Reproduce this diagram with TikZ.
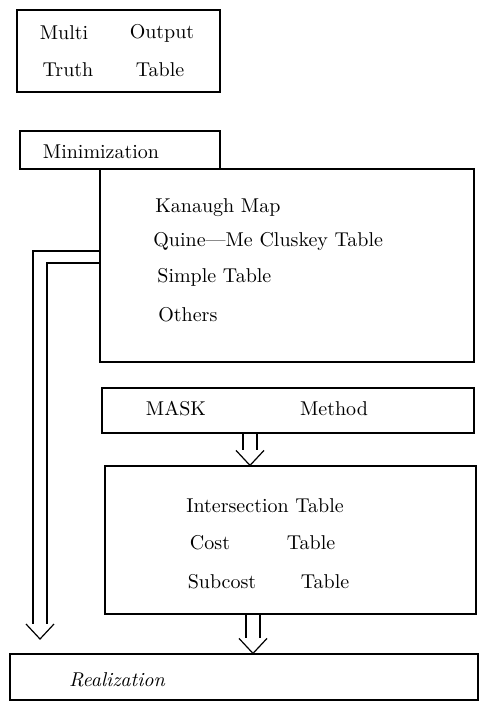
\documentclass[tikz,border=0pt]{standalone}
\usetikzlibrary{calc}
\begin{document}
\begin{tikzpicture}[x=0.5pt,y=-0.5pt,
  boxnode/.style={draw,line width=0.6pt,inner sep=0pt,rectangle},
  lbl/.style={font=\fontsize{10}{12}\selectfont,inner sep=0pt},
  conn/.style={line width=0.6pt}]
\useasboundingbox (0,0) rectangle (482,704);
% boxes
\node[boxnode,minimum width=101.5pt,minimum height=41pt] (top) at (118.5,51) {};
\node[boxnode,minimum width=100pt,minimum height=19pt] (mini) at (120,150) {};
\node[boxnode,minimum width=187pt,minimum height=96.5pt] (big) at (287,265.5) {};
\node[boxnode,minimum width=186pt,minimum height=22.5pt] (mask) at (288,410.5) {};
\node[boxnode,minimum width=185.5pt,minimum height=74pt] (inter) at (290.5,540) {};
\node[boxnode,minimum width=234pt,minimum height=23pt] (real) at (244,677) {};
% texts
\node[lbl] (t1) at (64,33) {Multi};
\node[lbl] (t2) at (162,33) {Output};
\node[lbl] (t3) at (68,70) {Truth};
\node[lbl] (t4) at (160,70) {Table};
\node[lbl] (m1) at (101,152) {Minimization};
\node[lbl,anchor=west] (b1) at (155,208) {Kanaugh Map};
\node[lbl,anchor=west] (b2) at (153,242) {Quine---Me Cluskey Table};
\node[lbl,anchor=west] (b3) at (157,277) {Simple Table};
\node[lbl,anchor=west] (b4) at (158,315) {Others};
\node[lbl] (k1) at (176,409) {MASK};
\node[lbl] (k2) at (334,409) {Method};
\node[lbl] (i1) at (265,506) {Intersection Table};
\node[lbl] (i2) at (210,543) {Cost};
\node[lbl] (i3) at (311,543) {Table};
\node[lbl] (i4) at (222,582) {Subcost};
\node[lbl] (i5) at (325,582) {Table};
\node[lbl,font=\fontsize{10}{12}\selectfont\itshape] (r1) at (117,680) {Realization};
% double arrows
\coordinate (c1) at (250,0);
\coordinate (c2) at (253,0);
\coordinate (s1) at (mask.south -| c1);
\coordinate (e1) at (inter.north -| c1);
\coordinate (s2) at (inter.south -| c2);
\coordinate (e2) at (real.north -| c2);
\draw[conn] ($(s1)+(-7,0)$) -- ($(e1)+(-7,-15)$);
\draw[conn] ($(s1)+(7,0)$) -- ($(e1)+(7,-15)$);
\draw[conn] ($(e1)+(-14,-15)$) -- (e1) -- ($(e1)+(14,-15)$);
\draw[conn] ($(s2)+(-7,0)$) -- ($(e2)+(-7,-15)$);
\draw[conn] ($(s2)+(7,0)$) -- ($(e2)+(7,-15)$);
\draw[conn] ($(e2)+(-14,-15)$) -- (e2) -- ($(e2)+(14,-15)$);
% left arrow
\coordinate (la) at (40,639);
\coordinate (lo) at (33,251);
\coordinate (li) at (47,263);
\draw[conn] (big.west |- lo) -- (lo) -- ($(la)+(-7,-15)$);
\draw[conn] (big.west |- li) -- (li) -- ($(la)+(7,-15)$);
\draw[conn] ($(la)+(-14,-15)$) -- (la) -- ($(la)+(14,-15)$);
\end{tikzpicture}
\end{document}
